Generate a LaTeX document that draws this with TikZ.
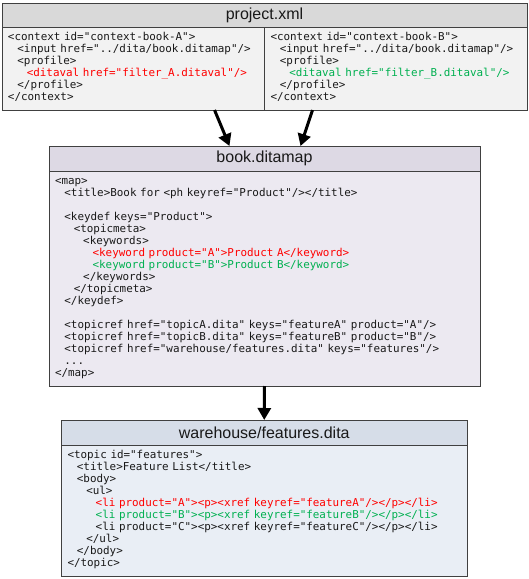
\documentclass[tikz,border=0pt]{standalone}
\usepackage{fontspec}
\setmainfont{Liberation Sans}
\setmonofont{DejaVu Sans Mono}
\usetikzlibrary{arrows.meta,positioning}
\definecolor{projhead}{RGB}{217,217,217}
\definecolor{projbody}{RGB}{242,242,242}
\definecolor{maphead}{RGB}{221,217,228}
\definecolor{mapbody}{RGB}{236,233,241}
\definecolor{tophead}{RGB}{214,221,232}
\definecolor{topbody}{RGB}{233,238,245}
\definecolor{prodA}{RGB}{255,0,0}
\definecolor{prodB}{RGB}{0,176,80}
\newlength{\lvw}
\setlength{\lvw}{9.4pt}
\newcommand{\lv}[1]{\hspace*{#1\lvw}}
\newcommand{\xmlfont}{\ttfamily\fontsize{10.9}{12}\selectfont\spaceskip=6.56pt\relax\xspaceskip=6.56pt\relax}
\tikzset{
	head/.style={draw=black!75,line width=1pt,anchor=north west,outer sep=0pt,inner sep=0pt,minimum height=25pt,text=black!90,font=\fontsize{16}{19}\selectfont},
	code/.style={draw=black!75,line width=1pt,anchor=north west,outer sep=0pt,inner xsep=6pt,inner ysep=5.5pt,align=left,text=black!90,font=\xmlfont},
	fat/.style={line width=3pt,-{Triangle[length=12pt,width=13pt]}}
}
\begin{document}
\begin{tikzpicture}[x=1pt,y=-1pt]
	\useasboundingbox (0,0) rectangle (529,579);
	\node[head,fill=projhead,minimum width=525pt,minimum height=24pt] (projhd) at (2,3) {project.xml};
	\node[code,fill=projbody,text width=250.5pt] (ctxa) at (projhd.south west) {\strut<context id="context-book-A">\\
		\lv1<input href="../dita/book.ditamap"/>\\
		\lv1<profile>\\
		\lv2\textcolor{prodA}{<ditaval href="filter\_A.ditaval"/>}\\
		\lv1</profile>\\
		</context>\strut};
	\node[code,fill=projbody,text width=250.5pt] (ctxb) at (projhd.south) {\strut<context id="context-book-B">\\
		\lv1<input href="../dita/book.ditamap"/>\\
		\lv1<profile>\\
		\lv2\textcolor{prodB}{<ditaval href="filter\_B.ditaval"/>}\\
		\lv1</profile>\\
		</context>\strut};
	
	\node[head,fill=maphead,minimum width=431pt] (maphd) at (49,146) {book.ditamap};
	\node[code,fill=mapbody,text width=419pt] (map) at (maphd.south west) {\strut<map>\\
		\lv1<title>Book for <ph keyref="Product"/></title>\\
		\mbox{}\\
		\lv1<keydef keys="Product">\\
		\lv2<topicmeta>\\
		\lv3<keywords>\\
		\lv4\textcolor{prodA}{<keyword product="A">Product A</keyword>}\\
		\lv4\textcolor{prodB}{<keyword product="B">Product B</keyword>}\\
		\lv3</keywords>\\
		\lv2</topicmeta>\\
		\lv1</keydef>\\
		\mbox{}\\
		\lv1<topicref href="topicA.dita" keys="featureA" product="A"/>\\
		\lv1<topicref href="topicB.dita" keys="featureB" product="B"/>\\
		\lv1<topicref href="warehouse/features.dita" keys="features"/>\\
		\lv1...\\
		</map>\strut};
	
	\node[head,fill=tophead,minimum width=405.5pt] (tophd) at (61.5,420) {warehouse/features.dita};
	\node[code,fill=topbody,text width=393.5pt] (topic) at (tophd.south west) {\strut<topic id="features">\\
		\lv1<title>Feature List</title>\\
		\lv1<body>\\
		\lv2<ul>\\
		\lv3\textcolor{prodA}{<li product="A"><p><xref keyref="featureA"/></p></li>}\\
		\lv3\textcolor{prodB}{<li product="B"><p><xref keyref="featureB"/></p></li>}\\
		\lv3<li product="C"><p><xref keyref="featureC"/></p></li>\\
		\lv2</ul>\\
		\lv1</body>\\
		</topic>\strut};
	
	\draw[fat] ([xshift=-50pt]ctxa.south east) -- ([xshift=-35pt]maphd.north);
	\draw[fat] ([xshift=48pt]ctxb.south west) -- ([xshift=36pt]maphd.north);
	\draw[fat] (map.south) -- (tophd.north);
\end{tikzpicture}
\end{document}
